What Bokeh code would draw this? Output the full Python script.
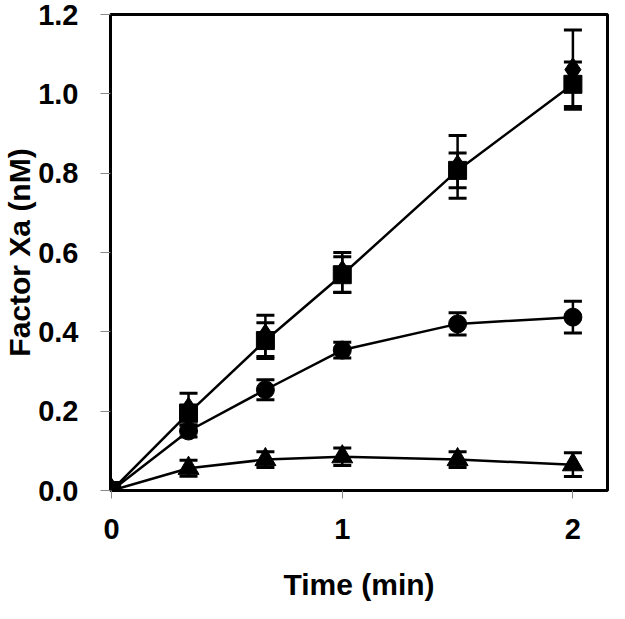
from bokeh.plotting import figure
from bokeh.models import (ColumnDataSource, Whisker, TeeHead, FixedTicker, Range1d,
                          CustomJSTickFormatter, Title)
from bokeh.embed import file_html
from bokeh.resources import INLINE

# ---- data ----
time_min = [0, 1/3, 2/3, 1, 1.5, 2]
square_y = [0, 0.195, 0.378, 0.544, 0.807, 1.024]
square_err = [0, 0.02, 0.045, 0.045, 0.044, 0.056]
diamond_y = [0, 0.205, 0.39, 0.55, 0.816, 1.061]
diamond_err = [0, 0.04, 0.052, 0.05, 0.079, 0.10]
circle_y = [0, 0.15, 0.254, 0.354, 0.42, 0.437]
circle_err = [0, 0.015, 0.025, 0.02, 0.028, 0.04]
triangle_y = [0, 0.056, 0.078, 0.085, 0.078, 0.065]
triangle_err = [0, 0.02, 0.02, 0.022, 0.02, 0.03]
x_ticks = [0, 1, 2]
y_ticks = [0.0, 0.2, 0.4, 0.6, 0.8, 1.0, 1.2]
x_title = "Time (min)"
y_title = "Factor Xa (nM)"

FONT = "Liberation Sans"

p = figure(width=609, height=603,
           x_range=Range1d(-0.005, 2.15), y_range=Range1d(0, 1.2),
           output_backend="svg", toolbar_location=None,
           min_border_left=110, min_border_right=2,
           min_border_top=14, min_border_bottom=110)

p.background_fill_color = "white"
p.border_fill_color = "white"
p.outline_line_color = "black"
p.outline_line_width = 3
p.grid.visible = False

for ax in (p.xaxis[0], p.yaxis[0]):
    ax.axis_line_color = None
    ax.major_tick_line_color = "#888888"
    ax.major_tick_line_width = 1
    ax.major_tick_in = 0
    ax.minor_tick_line_color = None
    ax.major_label_text_font = FONT
    ax.major_label_text_font_style = "bold"
    ax.major_label_text_font_size = "29px"
    ax.major_label_text_color = "black"
    ax.axis_label_text_font = FONT
    ax.axis_label_text_font_style = "bold"
    ax.axis_label_text_font_size = "30px"
    ax.axis_label_text_color = "black"

p.xaxis.ticker = FixedTicker(ticks=x_ticks)
p.yaxis.ticker = FixedTicker(ticks=y_ticks)
p.yaxis.formatter = CustomJSTickFormatter(code="return tick.toFixed(1);")
p.xaxis.formatter = CustomJSTickFormatter(code="return tick.toFixed(0);")
p.xaxis.major_tick_out = 8
p.yaxis.major_tick_out = 10
p.xaxis.major_label_standoff = 20
p.yaxis.major_label_standoff = 22
p.xaxis.axis_label = x_title
p.xaxis.axis_label_standoff = 26

# y title as a left-side title (sits at the very left edge)
p.add_layout(Title(text=y_title, align="center", standoff=0, offset=0,
                   text_font=FONT, text_font_style="bold",
                   text_font_size="30px", text_color="black"), "left")


def add_series(yvals, errs, marker, size, draw_line):
    lower = [v - e for v, e in zip(yvals, errs)]
    upper = [v + e for v, e in zip(yvals, errs)]
    src = ColumnDataSource(dict(x=time_min, y=yvals, lower=lower, upper=upper))
    if draw_line:
        p.line("x", "y", source=src, line_color="black", line_width=2.5)
    w = Whisker(base="x", lower="lower", upper="upper", source=src,
                line_color="black", line_width=2.5,
                upper_head=TeeHead(size=18, line_color="black", line_width=3),
                lower_head=TeeHead(size=18, line_color="black", line_width=3))
    p.add_layout(w)
    p.scatter("x", "y", source=src, marker=marker, size=size,
              fill_color="black", line_color="black")


add_series(diamond_y, diamond_err, "diamond", 24, False)
add_series(square_y, square_err, "square", 18, True)
add_series(circle_y, circle_err, "circle", 18, True)
add_series(triangle_y, triangle_err, "triangle", 21, True)

open("out.html", "w").write(file_html(p, INLINE))
